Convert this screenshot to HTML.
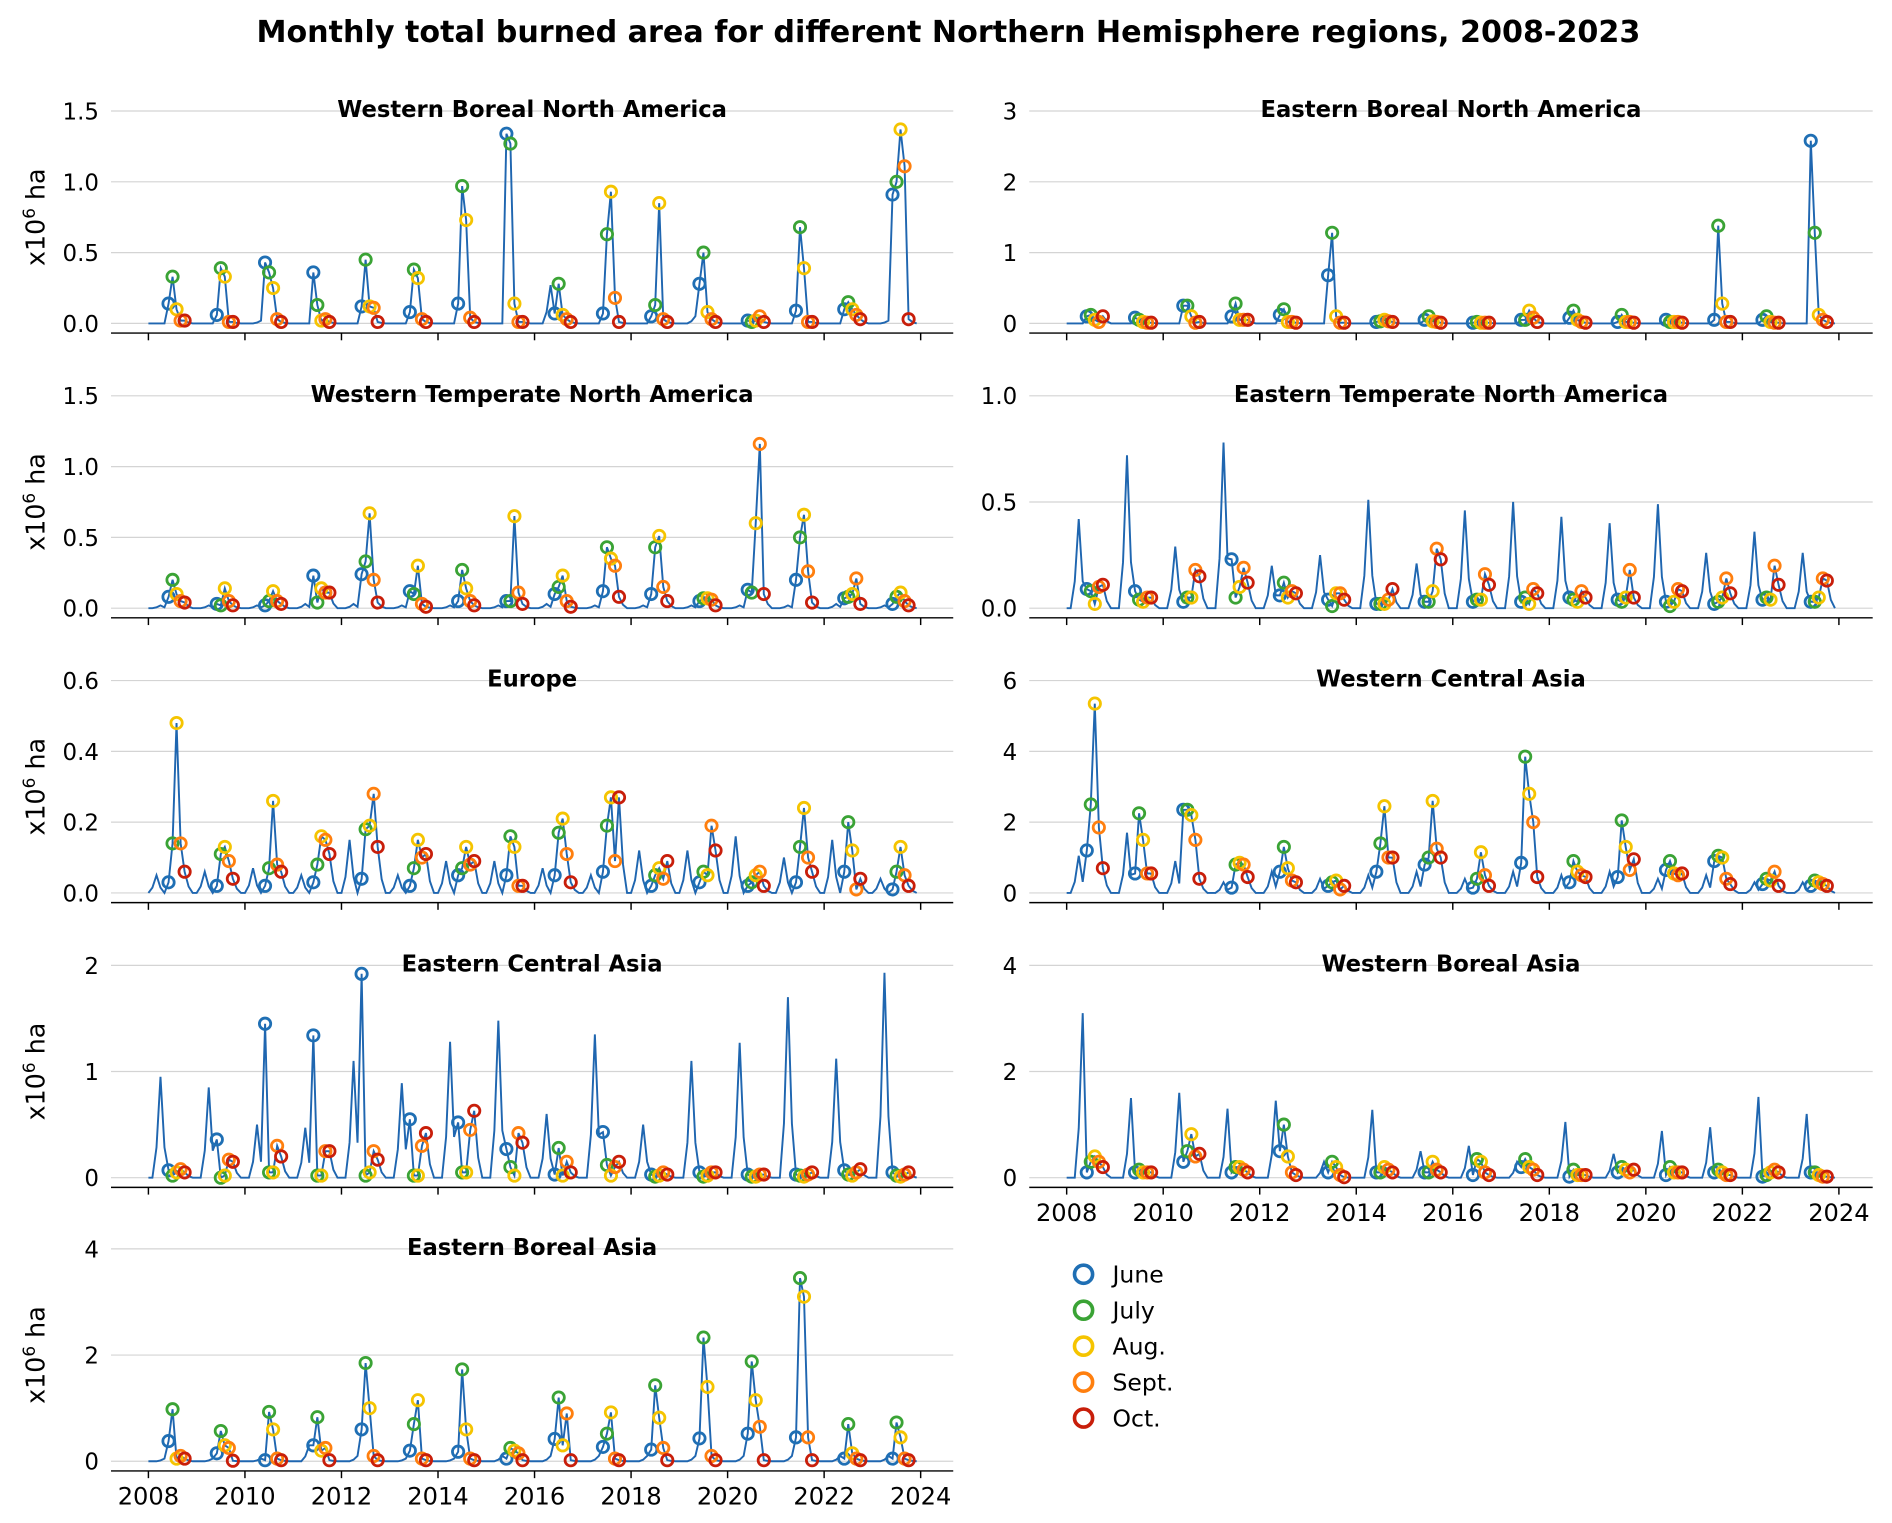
<!DOCTYPE html>
<html><head><meta charset="utf-8">
<style>
html,body{margin:0;padding:0;background:#fff;}
svg text{font-family:"DejaVu Sans","Liberation Sans",sans-serif;}
</style></head>
<body>
<svg id="chart" width="1892" height="1518" viewBox="0 0 1568 1258" xmlns="http://www.w3.org/2000/svg">
<rect width="1568" height="1258" fill="#fff"/>
<text x="786" y="35" text-anchor="middle" font-size="25" font-weight="bold">Monthly total burned area for different Northern Hemisphere regions, 2008-2023</text>
</svg>
<script>
const years = [2008,2009,2010,2011,2012,2013,2014,2015,2016,2017,2018,2019,2020,2021,2022,2023];
const monthNames = ["June","July","Aug.","Sept.","Oct."];
const colors = ["#1f6fb4","#3aa335","#f5c400","#ff7f0e","#c81e0a"];
const lineColor = "#1f66b0";
// values per year: [Jun, Jul, Aug, Sep, Oct]  (x10^6 ha)
const wbnaVals = [[.14,.33,.10,.02,.02],[.06,.39,.33,.01,.01],[.43,.36,.25,.03,.01],[.36,.13,.02,.03,.01],[.12,.45,.12,.11,.01],[.08,.38,.32,.03,.01],[.14,.97,.73,.04,.01],[1.34,1.27,.14,.01,.01],[.07,.28,.06,.03,.01],[.07,.63,.93,.18,.01],[.05,.13,.85,.03,.01],[.28,.50,.08,.03,.01],[.02,.01,.02,.05,.01],[.09,.68,.39,.01,.01],[.10,.15,.10,.06,.03],[.91,1.0,1.37,1.11,.03]];
const wbnaSpring = [0,0,0.02,0,0,0,0,0,.27,0,0,.05,0,0,0,.02];
const ebnaVals = [[.10,.12,.05,.02,.10],[.08,.05,.02,.01,.01],[.25,.25,.10,.01,.02],[.10,.28,.05,.05,.05],[.12,.20,.02,.02,.01],[.68,1.28,.10,.01,.01],[.02,.03,.05,.03,.02],[.05,.10,.03,.02,.01],[.01,.02,.01,.01,.01],[.05,.05,.18,.08,.02],[.08,.18,.05,.02,.01],[.02,.12,.02,.02,.01],[.05,.02,.02,.02,.01],[.05,1.38,.28,.02,.02],[.05,.10,.02,.01,.01],[2.58,1.28,.12,.05,.02]];
const ebnaSpring = [0,0,0,0,0,0,0,0,0,0,0,0,0,0,0,0];
const wtnaVals = [[.08,.20,.10,.05,.04],[.03,.02,.14,.05,.02],[.02,.05,.12,.05,.03],[.23,.04,.14,.11,.11],[.24,.33,.67,.20,.04],[.12,.10,.30,.03,.01],[.05,.27,.14,.05,.02],[.05,.05,.65,.11,.03],[.10,.15,.23,.05,.01],[.12,.43,.35,.30,.08],[.10,.43,.51,.15,.05],[.05,.07,.07,.06,.02],[.13,.11,.60,1.16,.10],[.20,.50,.66,.26,.04],[.07,.08,.10,.21,.03],[.03,.08,.11,.05,.02]];
const wtnaSpring = [.02,.02,.02,.03,.03,.02,.02,.02,.03,.02,.02,.02,.02,.02,.03,.02];
const etnaVals = [[.09,.08,.02,.10,.11],[.08,.04,.03,.05,.05],[.03,.05,.05,.18,.15],[.23,.05,.10,.19,.12],[.06,.12,.05,.08,.07],[.04,.01,.07,.07,.04],[.02,.02,.02,.04,.09],[.03,.03,.08,.28,.23],[.03,.04,.04,.16,.11],[.03,.05,.02,.09,.07],[.05,.04,.03,.08,.05],[.04,.03,.05,.18,.05],[.03,.01,.03,.09,.08],[.02,.03,.05,.14,.07],[.04,.05,.04,.20,.11],[.03,.03,.05,.14,.13]];
const etnaSpring = [.42,.72,.29,.78,.20,.25,.51,.21,.46,.50,.43,.40,.49,.26,.36,.26];
const eurVals = [[.03,.14,.48,.14,.06],[.02,.11,.13,.09,.04],[.02,.07,.26,.08,.06],[.03,.08,.16,.15,.11],[.04,.18,.19,.28,.13],[.02,.07,.15,.10,.11],[.05,.07,.13,.08,.09],[.05,.16,.13,.02,.02],[.05,.17,.21,.11,.03],[.06,.19,.27,.09,.27],[.02,.05,.07,.04,.09],[.03,.06,.05,.19,.12],[.02,.03,.05,.06,.02],[.03,.13,.24,.10,.06],[.06,.20,.12,.01,.04],[.01,.06,.13,.05,.02]];
const eurSpring = [.05,.06,.07,.05,.15,.05,.09,.09,.07,.05,.12,.12,.16,.10,.15,.04];
const wcaVals = [[1.2,2.5,5.35,1.85,.7],[.55,2.25,1.5,.55,.55],[2.35,2.35,2.2,1.5,.4],[.15,.8,.85,.8,.45],[.6,1.3,.7,.35,.3],[.2,.3,.35,.1,.2],[.6,1.4,2.45,1.0,1.0],[.8,1.0,2.6,1.25,1.0],[.15,.4,1.15,.5,.2],[.85,3.85,2.8,2.0,.45],[.3,.9,.6,.5,.45],[.45,2.05,1.3,.65,.95],[.65,.9,.55,.5,.55],[.9,1.05,1.0,.4,.25],[.25,.4,.35,.6,.2],[.2,.35,.3,.25,.2]];
const wcaSpring = [1.05,1.7,.9,.3,.6,.4,.5,.6,.4,.6,.5,.6,.4,.5,.3,.3];
const ecaVals = [[.07,.02,.05,.08,.05],[.36,0,.02,.17,.15],[1.45,.05,.05,.3,.2],[1.34,.02,.02,.25,.25],[1.92,.02,.05,.25,.17],[.55,.02,.02,.3,.42],[.52,.05,.05,.45,.63],[.27,.1,.02,.42,.33],[.03,.28,.02,.15,.05],[.43,.12,.02,.10,.15],[.03,.01,.02,.05,.03],[.05,.01,.02,.05,.05],[.03,.01,.01,.03,.03],[.03,.02,.01,.03,.05],[.07,.03,.02,.05,.08],[.05,.02,.01,.03,.05]];
const ecaSpring = [.95,.85,.5,.47,1.1,.89,1.28,1.48,.6,1.35,.5,1.1,1.27,1.7,1.12,1.93];
const wbaVals = [[.1,.3,.4,.3,.2],[.1,.15,.1,.1,.1],[.3,.5,.82,.4,.45],[.1,.2,.2,.15,.1],[.5,1.0,.4,.1,.05],[.1,.3,.2,.05,.01],[.1,.1,.2,.15,.1],[.1,.1,.3,.15,.1],[.05,.35,.3,.1,.05],[.2,.35,.2,.15,.05],[.02,.15,.05,.05,.05],[.1,.2,.15,.1,.15],[.05,.2,.1,.1,.1],[.1,.15,.1,.05,.05],[.02,.05,.1,.15,.1],[.1,.1,.05,.02,.02]];
const wbaSpring = [3.1,1.5,1.6,1.3,1.45,.3,1.28,.5,.6,.3,1.05,.45,.88,.95,1.52,1.2];
const ebaVals = [[.38,.98,.05,.1,.05],[.15,.57,.3,.25,.01],[.02,.93,.6,.05,.02],[.3,.83,.2,.25,.02],[.6,1.85,1.0,.1,.02],[.2,.7,1.15,.05,.02],[.18,1.73,.6,.05,.02],[.05,.25,.2,.15,.02],[.42,1.2,.3,.9,.02],[.27,.52,.92,.05,.02],[.22,1.43,.82,.25,.02],[.43,2.33,1.4,.1,.02],[.52,1.88,1.15,.65,.02],[.45,3.45,3.1,.45,.02],[.05,.7,.15,.05,.02],[.05,.73,.45,.05,.02]];
const ebaSpring = [.05,.05,.05,.3,.1,.05,.05,.1,.1,.1,.1,.1,.1,.1,.1,.1];

const panels = [
 {name:"western-boreal-north-america",title:"Western Boreal North America",col:0,row:0,vals:wbnaVals,spring:wbnaSpring,sm:4,max:1.5,ticks:[0,0.5,1.0,1.5],dec:1},
 {name:"eastern-boreal-north-america",title:"Eastern Boreal North America",col:1,row:0,vals:ebnaVals,spring:ebnaSpring,sm:4,max:3,ticks:[0,1,2,3],dec:0},
 {name:"western-temperate-north-america",title:"Western Temperate North America",col:0,row:1,vals:wtnaVals,spring:wtnaSpring,sm:3,max:1.5,ticks:[0,0.5,1.0,1.5],dec:1},
 {name:"eastern-temperate-north-america",title:"Eastern Temperate North America",col:1,row:1,vals:etnaVals,spring:etnaSpring,sm:3,max:1.0,ticks:[0,0.5,1.0],dec:1},
 {name:"europe",title:"Europe",col:0,row:2,vals:eurVals,spring:eurSpring,sm:2,max:0.6,ticks:[0,0.2,0.4,0.6],dec:1},
 {name:"western-central-asia",title:"Western Central Asia",col:1,row:2,vals:wcaVals,spring:wcaSpring,sm:3,max:6,ticks:[0,2,4,6],dec:0},
 {name:"eastern-central-asia",title:"Eastern Central Asia",col:0,row:3,vals:ecaVals,spring:ecaSpring,sm:3,max:2,ticks:[0,1,2],dec:0},
 {name:"western-boreal-asia",title:"Western Boreal Asia",col:1,row:3,vals:wbaVals,spring:wbaSpring,sm:4,max:4,ticks:[0,2,4],dec:0},
 {name:"eastern-boreal-asia",title:"Eastern Boreal Asia",col:0,row:4,vals:ebaVals,spring:ebaSpring,sm:4,max:4,ticks:[0,2,4],dec:0}
];
const NS="http://www.w3.org/2000/svg";
const svg=document.getElementById('chart');
function mk(tag,attrs,parent){const e=document.createElementNS(NS,tag);for(const k in attrs)e.setAttribute(k,attrs[k]);(parent||svg).appendChild(e);return e;}
const xTickYears=[2008,2010,2012,2014,2016,2018,2020,2022,2024];
panels.forEach(p=>{
  const x0 = p.col===0?123:884;
  const left = p.col===0?92:853, right = p.col===0?790:1552;
  const top = [80,316,552,788,1023][p.row];
  const yZero = top+188, yMax = top+12;
  const xs = t => x0 + (t-2008)*40;
  const ys = v => yZero - v/p.max*(yZero-yMax);
  const g=mk('g',{});
  
  
  p.ticks.forEach(t=>{
    const gl=mk('line',{x1:left,x2:right,y1:ys(t),y2:ys(t),stroke:"#d4d4d4","stroke-width":1},g);
    
    
    const tl=mk('text',{x:left-10,y:ys(t)+7,"text-anchor":"end","font-size":19},g);
    
    
    tl.textContent=t.toFixed(p.dec);
  });
  const sp=mk('line',{x1:left,x2:right,y1:yZero+8,y2:yZero+8,stroke:"#000","stroke-width":1.2},g);
  
  
  const showLabels = (p.row===4)||(p.col===1&&p.row===3);
  xTickYears.forEach(yr=>{
    mk('line',{x1:xs(yr),x2:xs(yr),y1:yZero+8,y2:yZero+14,stroke:"#000","stroke-width":1.2},g);
    if(showLabels){
      const xl=mk('text',{x:xs(yr),y:yZero+36,"text-anchor":"middle","font-size":20},g);
      
      
      xl.textContent=yr;
    }
  });
  const tt=mk('text',{x:(left+right)/2,y:top+17,"text-anchor":"middle","font-size":18.8,"font-weight":"bold"},g);
  
  
  tt.textContent=p.title;
  if(p.col===0){
    const yl=mk('text',{x:0,y:0,"text-anchor":"middle","font-size":21,transform:`translate(37,${(yZero+yMax)/2}) rotate(-90)`},g);
    
    
    yl.innerHTML='x10<tspan dy="-8" font-size="14">6</tspan><tspan dy="8"> ha</tspan>';
  }
  const pts=[];
  years.forEach((yr,i)=>{
    for(let m=0;m<12;m++){
      let v=0;
      if(m>=5&&m<=9) v=p.vals[i][m-5];
      else if(m===p.sm) v=p.spring[i];
      else if(m===p.sm-1) v=p.spring[i]*0.3;
      else if(m===p.sm+1 && m<5) v=p.spring[i]*0.3;
      else if(m===10) v=p.vals[i][4]*0.3;
      pts.push([xs(yr+m/12),ys(v)]);
    }
  });
  const ln=mk('path',{d:"M"+pts.map(q=>q[0].toFixed(1)+","+q[1].toFixed(1)).join("L"),fill:"none",stroke:lineColor,"stroke-width":1.6},g);
  
  
  years.forEach((yr,i)=>{
    for(let k=0;k<5;k++){
      const c=mk('circle',{cx:xs(yr+(5+k)/12),cy:ys(p.vals[i][k]),r:4.7,fill:"none",stroke:colors[k],"stroke-width":2.3},g);
      
      
    }
  });
});
const lg=mk('g',{});


monthNames.forEach((n,k)=>{
  const y=1056+k*29.8;
  const c=mk('circle',{cx:898,cy:y,r:7.5,fill:"none",stroke:colors[k],"stroke-width":3},lg);
  
  
  const t=mk('text',{x:922,y:y+7,"font-size":19.5},lg);
  
  
  t.textContent=n;
});
</script>
</body></html>
